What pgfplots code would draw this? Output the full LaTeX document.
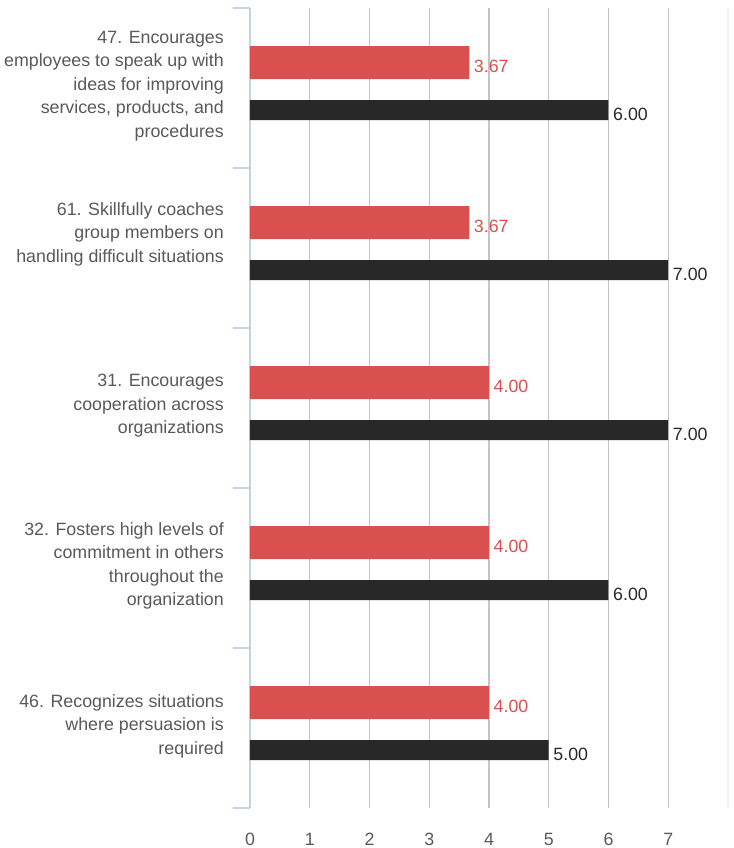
\documentclass[border=0pt]{standalone}
\usepackage{fontspec}
\setmainfont{Liberation Sans}
\usepackage{pgfplots}
\pgfplotsset{compat=1.18}
\definecolor{barred}{HTML}{DA504E}
\definecolor{bardark}{HTML}{282828}
\definecolor{txtgray}{HTML}{595959}
\definecolor{axisblue}{HTML}{C5D3E3}
\definecolor{gridgray}{HTML}{C4C4C4}
\begin{document}
\begin{tikzpicture}
\begin{axis}[
  scale only axis, width=478pt, height=800pt,
  xmin=0, xmax=8, ymin=-0.5, ymax=4.5, y dir=reverse,
  axis x line*=bottom, axis y line*=left,
  x axis line style={draw=none},
  y axis line style={draw=axisblue, line width=1.3pt},
  xtick={0,1,...,7},
  xtick style={draw=none},
  xmajorgrids, grid style={draw=gridgray, line width=1.3pt},
  extra x ticks={8}, extra x tick labels={},
  extra x tick style={grid style={draw=black!5, line width=1.2pt}},
  xticklabel style={text=txtgray, font=\fontsize{17.8}{21}\selectfont, inner sep=0pt, yshift=-8pt},
  ytick={-0.5,0.5,...,4.5}, yticklabels={},
  tick align=outside, major tick length=17pt,
  ytick style={draw=axisblue, line width=1.3pt},
  /pgf/number format/assume math mode=true,
  clip=false,
]
\addplot[xbar, bar width=0.206, bar shift=-0.159, fill=barred, draw=none,
  nodes near coords, nodes near coords align=horizontal,
  nodes near coords style={anchor=west, text=barred, font=\fontsize{17.8}{21}\selectfont, inner sep=0pt, xshift=4.5pt, yshift=22pt,
    /pgf/number format/.cd, fixed, fixed zerofill, precision=2}]
  coordinates {(3.67,0) (3.67,1) (4,2) (4,3) (4,4)};
\addplot[xbar, bar width=0.125, bar shift=0.1375, fill=bardark, draw=none,
  nodes near coords, nodes near coords align=horizontal,
  nodes near coords style={anchor=west, text=bardark, font=\fontsize{17.8}{21}\selectfont, inner sep=0pt, xshift=4.5pt, yshift=-26pt,
    /pgf/number format/.cd, fixed, fixed zerofill, precision=2}]
  coordinates {(6,0) (7,1) (7,2) (6,3) (5,4)};
\tikzset{catlab/.style={anchor=east, align=right, text=txtgray, font=\fontsize{17.8}{23.5}\selectfont, inner sep=0pt}}
\node[catlab] at ([xshift=-26pt,yshift=2pt]axis cs:0,0) {47. Encourages\\employees to speak up with\\ideas for improving\\services, products, and\\procedures};
\node[catlab] at ([xshift=-26pt,yshift=14pt]axis cs:0,1) {61. Skillfully coaches\\group members on\\handling difficult situations};
\node[catlab] at ([xshift=-26pt,yshift=2pt]axis cs:0,2) {31. Encourages\\cooperation across\\organizations};
\node[catlab] at ([xshift=-26pt,yshift=2pt]axis cs:0,3) {32. Fosters high levels of\\commitment in others\\throughout the\\organization};
\node[catlab] at ([xshift=-26pt,yshift=2pt]axis cs:0,4) {46. Recognizes situations\\where persuasion is\\required};
\end{axis}
\pgfresetboundingbox
\path ([shift={(-250pt,-40pt)}]current axis.south west) rectangle ([shift={(6pt,8pt)}]current axis.north east);
\end{tikzpicture}
\end{document}
